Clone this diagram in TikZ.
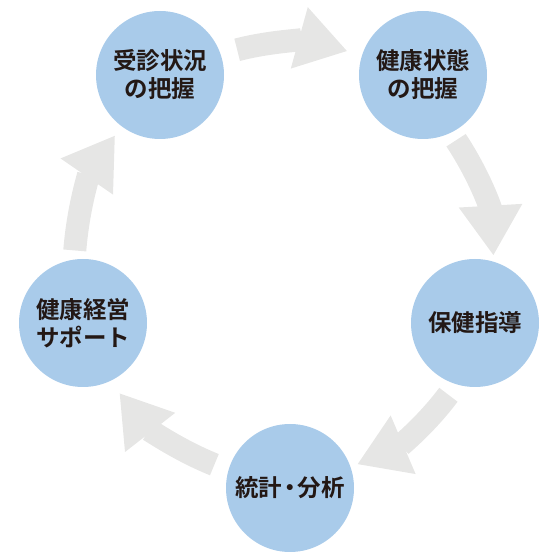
\documentclass[tikz,border=0pt]{standalone}
\usepackage{fontspec}
\newfontfamily\jpfont{Noto Sans CJK JP}[BoldFont={Noto Sans CJK JP Bold}]
\usetikzlibrary{arrows.meta}
\definecolor{circblue}{HTML}{A9CBEA}
\definecolor{flowgray}{HTML}{E6E6E5}
\definecolor{textdark}{HTML}{231815}
\begin{document}
\begin{tikzpicture}[x=1pt,y=1pt,
		stage/.style={circle,fill=circblue,minimum size=128pt,inner sep=0pt,align=center,
			font=\jpfont\bfseries\fontsize{23.5}{28}\selectfont,text=textdark},
		flow/.style={draw=flowgray,line width=23pt,-{Triangle[length=50pt,width=60pt]}}]
		\tikzstyle{every node}+=[inner sep=0pt]
		\useasboundingbox (0,0) rectangle (560,560);
		\node [stage] (c1) at (160,485) {受診状況\\の把握};
		\node [stage] (c2) at (423,485) {健康状態\\の把握};
		\node [stage] (c3) at (475,237) {保健指導};
		\node [stage] (c4) at (290,72) {統計\kern-4pt・\kern-4pt分析};
		\node [stage] (c5) at (83,237) {健康経営\\サポート};
		\draw [flow,shorten <=17pt,shorten >=15pt] (c1.19) to[bend left=15] (c2.162);
		\draw [flow,shorten <=9pt,shorten >=6pt] (c2.-64) to[bend left=15] (c3.73);
		\draw [flow,shorten <=13pt,shorten >=7pt] (c3.-107) to[bend left=15] (c4.19);
		\draw [flow,shorten <=15pt,shorten >=15pt] (c4.164) to[bend left=15] (c5.-65);
		\draw [flow,shorten <=9pt,shorten >=11pt] (c5.98) to[bend left=15] (c1.-127);
	\end{tikzpicture}
\end{document}
